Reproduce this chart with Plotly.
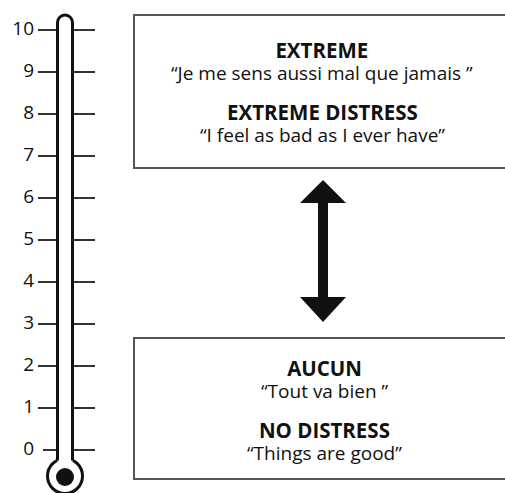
import plotly.graph_objects as go

# ---- data ----
tick_values = [0, 1, 2, 3, 4, 5, 6, 7, 8, 9, 10]
tick_labels = ["0", "1", "2", "3", "4", "5", "6", "7", "8", "9", "10"]

top_titles = ["EXTREME", "EXTREME DISTRESS"]
top_quotes = ["\u201cJe me sens aussi mal que jamais \u201d", "\u201cI feel as bad as I ever have\u201d"]
bottom_titles = ["AUCUN", "NO DISTRESS"]
bottom_quotes = ["\u201cTout va bien \u201d", "\u201cThings are good\u201d"]

W, H = 505, 493
FONT = "Open Sans"
INK = "#111111"

fig = go.Figure()

# tick marks on both sides of the tube (value units on y axis)
xs, ys = [], []
for v in tick_values:
    xl0 = 43 if v == 0 else 38
    xs += [xl0, 57, None, 73, 95, None]
    ys += [v, v, None, v, v, None]
fig.add_trace(go.Scatter(x=xs, y=ys, mode="lines", line=dict(color="#333333", width=2),
                         hoverinfo="skip", showlegend=False, yaxis="y"))

# tick labels
fig.add_trace(go.Scatter(x=[34] * len(tick_values), y=tick_values, text=tick_labels,
                         mode="text", textposition="middle left",
                         textfont=dict(family=FONT, size=19, color=INK),
                         hoverinfo="skip", showlegend=False, yaxis="y"))

shapes = []
# boxes (pixel coordinates on x / y2)
for (y0, y1) in [(15, 168), (338, 479)]:
    shapes.append(dict(type="rect", xref="x", yref="y2", x0=134, x1=520, y0=y0, y1=y1,
                       line=dict(color="#555555", width=2), fillcolor="rgba(0,0,0,0)", layer="above"))

# bulb outer ring
cx, cy, r = 65, 476, 17.5
shapes.append(dict(type="circle", xref="x", yref="y2", x0=cx - r, x1=cx + r, y0=cy - r, y1=cy + r,
                   line=dict(color=INK, width=3), fillcolor="white", layer="above"))
# tube white fill covering the top of the ring
xl, xr, top = 57.5, 72.5, 15
k = 0.55 * 7.5
fill_path = (f"M {xl},{top+7.5} C {xl},{top+7.5-k} {65-k},{top} 65,{top} "
             f"C {65+k},{top} {xr},{top+7.5-k} {xr},{top+7.5} L {xr},{cy-12} L {xl},{cy-12} Z")
shapes.append(dict(type="path", xref="x", yref="y2", path=fill_path, fillcolor="white",
                   line=dict(width=0), layer="above"))
# tube outline
out_path = (f"M {xl},{cy-15.5} L {xl},{top+7.5} C {xl},{top+7.5-k} {65-k},{top} 65,{top} "
            f"C {65+k},{top} {xr},{top+7.5-k} {xr},{top+7.5} L {xr},{cy-15.5}")
shapes.append(dict(type="path", xref="x", yref="y2", path=out_path,
                   line=dict(color=INK, width=3), layer="above"))
# inner black dot
rd = 9
shapes.append(dict(type="circle", xref="x", yref="y2", x0=cx - rd, x1=cx + rd, y0=cy + 1 - rd, y1=cy + 1 + rd,
                   line=dict(color=INK, width=0), fillcolor=INK, layer="above"))

# double-headed arrow
ax = 323
arrow = (f"M {ax},180 L {ax+23},203 L {ax+5},203 L {ax+5},297 L {ax+23},297 L {ax},322 "
         f"L {ax-23},297 L {ax-5},297 L {ax-5},203 L {ax-23},203 Z")
shapes.append(dict(type="path", xref="x", yref="y2", path=arrow, fillcolor=INK,
                   line=dict(color=INK, width=0), layer="above"))

# box texts: title + quote in one annotation each
annotations = []
TS, QS, BASE = 20.5, 19, 17
def add_pair(title, quote, x, y):
    txt = (f"<span style='font-size:{TS}px'><b>{title}</b></span><br>"
           f"<span style='font-size:{QS}px'>{quote}</span>")
    annotations.append(dict(x=x, y=y, xref="x", yref="y2", text=txt,
                            showarrow=False, xanchor="center", yanchor="middle", align="center",
                            font=dict(family=FONT, size=BASE, color=INK)))

add_pair(top_titles[0], top_quotes[0], 322, 61)
add_pair(top_titles[1], top_quotes[1], 322, 122.5)
add_pair(bottom_titles[0], bottom_quotes[0], 325, 379)
add_pair(bottom_titles[1], bottom_quotes[1], 324, 440.5)

# y axis (values): 10 at pixel 30, 0 at pixel 450 => 42 px per unit
fig.update_layout(
    width=W, height=H,
    margin=dict(l=0, r=0, t=0, b=0),
    paper_bgcolor="white", plot_bgcolor="white",
    xaxis=dict(range=[0, W], visible=False, fixedrange=True),
    yaxis=dict(range=[-(H - 450) / 42, 450 / 42], visible=False, fixedrange=True),
    yaxis2=dict(range=[H, 0], visible=False, overlaying="y", fixedrange=True),
    shapes=shapes,
    annotations=annotations,
    showlegend=False,
)
fig.add_trace(go.Scatter(x=[None], y=[None], yaxis="y2", showlegend=False, hoverinfo="skip"))

fig.write_html("out.html", config={"displayModeBar": False},
               post_script="document.body.style.margin='0';document.body.style.overflow='hidden';")
